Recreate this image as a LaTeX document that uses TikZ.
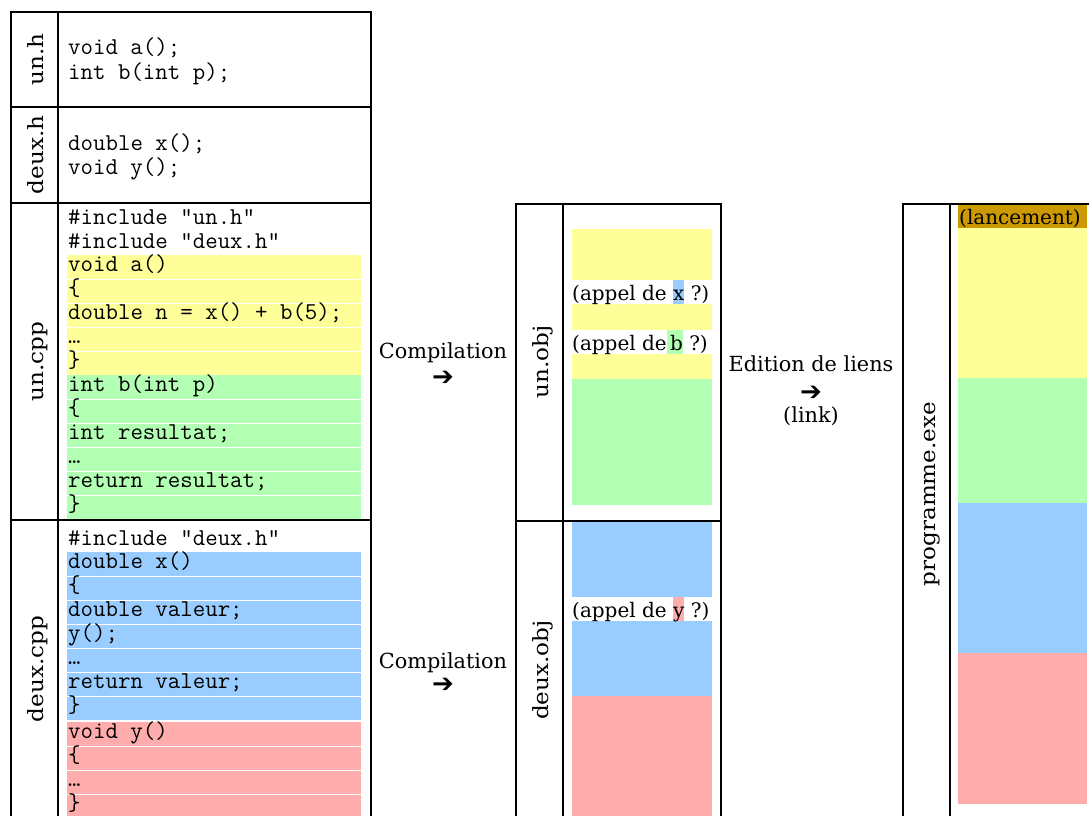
\documentclass[tikz,border=0pt]{standalone}
\usepackage{fontspec}
\setmainfont{DejaVu Serif}
\newfontfamily\labelfont{DejaVu Serif}[FakeStretch=1.1]
\setmonofont{Latin Modern Mono}
\newfontfamily\arrowfont{DejaVu Sans}

\definecolor{fnA}{HTML}{FFFF99}   % a()
\definecolor{fnB}{HTML}{B3FFB3}   % b()
\definecolor{fnX}{HTML}{99CCFF}   % x()
\definecolor{fnY}{HTML}{FFACAC}   % y()
\definecolor{boot}{HTML}{CC9900}  % start-up code

% highlighted symbol inside an object-file strip
\newcommand{\symhl}[2]{{\fboxsep=0pt\colorbox{#1}{\rule[-4pt]{0pt}{24pt}#2}}}
% arrow glyph with a tight box
\newcommand{\steparrow}{\raisebox{0pt}[0.45em][0pt]{➔}}

\tikzset{
  frame/.style={line width=2pt, line cap=rect},
  code/.style={anchor=base west, inner sep=0pt,
               font=\ttfamily\fontsize{24.2}{24}\selectfont},
  filelabel/.style={rotate=90, anchor=base, inner sep=0pt,
               font=\labelfont\fontsize{21}{24}\selectfont},
  txt/.style={inner sep=0pt, font=\fontsize{20.8}{24}\selectfont},
  striptxt/.style={inner sep=0pt, anchor=base west, font=\fontsize{20}{24}\selectfont},
  arrowglyph/.style={inner sep=0pt, anchor=base, font=\arrowfont\fontsize{26}{26}\selectfont},
  sep/.style={white, line width=1pt},
}

\begin{document}
\begin{tikzpicture}[x=1pt, y=-1pt]
\useasboundingbox (0,0) rectangle (1089,816);
\clip (0,0) rectangle (1089,816);

% ---------- source files: coloured function bodies ----------
\fill[fnA] (67,255) rectangle (361,375);
\fill[fnB] (67,375) rectangle (361,519);
\foreach \y in {279,303,327,351,399,423,447,471,495}
  \draw[sep] (67,\y) -- (361,\y);
\fill[fnX] (67,552) rectangle (361,720);
\fill[fnY] (67,722) rectangle (361,830);
\foreach \y in {576,600,624,648,672,696,746,770,794}
  \draw[sep] (67,\y) -- (361,\y);

% ---------- source files: frame ----------
\draw[frame] (11,12) -- (371,12);
\draw[frame] (11,12) -- (11,830);
\draw[frame] (58,12) -- (58,830);
\draw[frame] (371,12) -- (371,830);
\foreach \y in {107,203,520}
  \draw[frame] (11,\y) -- (371,\y);

% file names
\node[filelabel] (unh)     at (43,59.5)  {un.h};
\node[filelabel] (deuxh)   at (43,155)   {deux.h};
\node[filelabel] (uncpp)   at (43,361.5) {un.cpp};
\node[filelabel] (deuxcpp) at (43,669)   {deux.cpp};

% un.h
\node[code] (uh1) at (68,55)  {void a();};
\node[code] (uh2) at (68,79)  {int b(int p);};
% deux.h
\node[code] (dh1) at (68,150) {double x();};
\node[code] (dh2) at (68,174) {void y();};
% un.cpp
\node[code] (uc1)  at (68,224.5) {\#include "un.h"};
\node[code] (uc2)  at (68,248.5) {\#include "deux.h"};
\node[code] (uc3)  at (68,271.7) {void a()};
\node[code] (uc4)  at (68,295.7) {\{};
\node[code] (uc5)  at (68,319.7) {double n = x() + b(5);};
\node[code] (uc6)  at (68,343.7) {…};
\node[code] (uc7)  at (68,367.7) {\}};
\node[code] (uc8)  at (68,391.7) {int b(int p)};
\node[code] (uc9)  at (68,415.7) {\{};
\node[code] (uc10) at (68,439.7) {int resultat;};
\node[code] (uc11) at (68,463.7) {…};
\node[code] (uc12) at (68,487.7) {return resultat;};
\node[code] (uc13) at (68,511.7) {\}};
% deux.cpp
\node[code] (dc1)  at (68,545)   {\#include "deux.h"};
\node[code] (dc2)  at (68,568.7) {double x()};
\node[code] (dc3)  at (68,592.7) {\{};
\node[code] (dc4)  at (68,616.7) {double valeur;};
\node[code] (dc5)  at (68,640.7) {y();};
\node[code] (dc6)  at (68,664.7) {…};
\node[code] (dc7)  at (68,688.7) {return valeur;};
\node[code] (dc8)  at (68,712.7) {\}};
\node[code] (dc9)  at (68,738.7) {void y()};
\node[code] (dc10) at (68,762.7) {\{};
\node[code] (dc11) at (68,786.7) {…};
\node[code] (dc12) at (68,810.7) {\}};

% ---------- compilation steps ----------
\node[txt, anchor=base] (comp1) at (443,358) {Compilation};
\node[arrowglyph] (comp1arr) at (443,385) {\steparrow};
\node[txt, anchor=base] (comp2) at (443,668) {Compilation};
\node[arrowglyph] (comp2arr) at (443,692) {\steparrow};

% ---------- object files ----------
\fill[fnA] (572,229) rectangle (712,280);
\fill[fnA] (572,304) rectangle (712,330);
\fill[fnA] (572,354) rectangle (712,379);
\fill[fnB] (572,379) rectangle (712,505);
\fill[fnX] (572,522) rectangle (712,597);
\fill[fnX] (572,621) rectangle (712,696);
\fill[fnY] (572,696) rectangle (712,830);

\node[striptxt] (callx) at (572,300) {(appel de \symhl{fnX}{x} ?)};
\node[striptxt] (callb) at (572,350) {(appel de\symhl{fnB}{\,b} ?)};
\node[striptxt] (cally) at (572,617) {(appel de \symhl{fnY}{y} ?)};

\draw[frame] (516,203.5) -- (720.5,203.5);
\draw[frame] (516,203.5) -- (516,830);
\draw[frame] (563,203.5) -- (563,830);
\draw[frame] (720.5,203.5) -- (720.5,830);
\draw[frame] (516,520.5) -- (720.5,520.5);

\node[filelabel] (unobj)   at (548,362) {un.obj};
\node[filelabel] (deuxobj) at (548,670) {deux.obj};

% ---------- link step ----------
\node[txt, anchor=base] (link)    at (811,371) {Edition de liens};
\node[arrowglyph]       (linkarr) at (811,400) {\steparrow};
\node[txt, anchor=base] (linkkw)  at (811,422) {(link)};

% ---------- executable ----------
\fill[boot] (958,203.5) rectangle (1087,228);
\fill[fnA]  (958,228) rectangle (1087,378);
\fill[fnB]  (958,378) rectangle (1087,503);
\fill[fnX]  (958,503) rectangle (1087,653);
\fill[fnY]  (958,653) rectangle (1087,804);
\node[striptxt] (launch) at (959,224) {(lancement)};

\draw[frame] (903,203.5) -- (1095,203.5);
\draw[frame] (903,203.5) -- (903,830);
\draw[frame] (950,203.5) -- (950,830);

\node[filelabel] (exe) at (935,494) {programme.exe};
\end{tikzpicture}
\end{document}
